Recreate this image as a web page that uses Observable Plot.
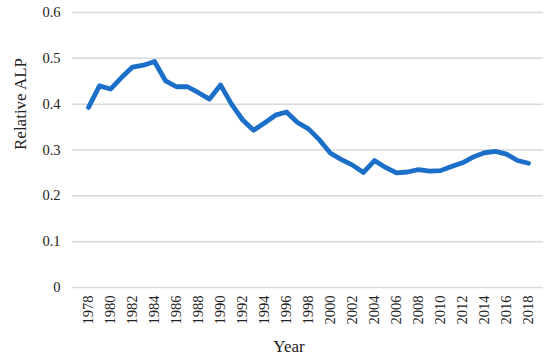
<!DOCTYPE html>
<html>
<head>
<meta charset="utf-8">
<script src="https://cdn.jsdelivr.net/npm/d3@7"></script>
<script src="https://cdn.jsdelivr.net/npm/@observablehq/plot@0.6"></script>
<style>
  html, body { margin: 0; padding: 0; background: #fff; }
  #chart svg { display: block; }
  #chart svg, #chart svg text { font-family: "Liberation Serif", "Times New Roman", serif !important; }
</style>
</head>
<body>
<div id="chart"></div>
<script>
const years = [1978,1979,1980,1981,1982,1983,1984,1985,1986,1987,1988,1989,1990,1991,1992,1993,1994,1995,1996,1997,1998,1999,2000,2001,2002,2003,2004,2005,2006,2007,2008,2009,2010,2011,2012,2013,2014,2015,2016,2017,2018];
const alp = [0.393,0.440,0.433,0.458,0.481,0.485,0.493,0.451,0.438,0.438,0.425,0.411,0.442,0.400,0.366,0.343,0.359,0.376,0.383,0.360,0.346,0.322,0.293,0.279,0.267,0.251,0.277,0.262,0.250,0.252,0.257,0.254,0.255,0.264,0.272,0.285,0.294,0.297,0.291,0.277,0.271];
const yTicks = [0, 0.1, 0.2, 0.3, 0.4, 0.5, 0.6];
const xTickLabels = years.filter(y => y % 2 === 0);
const yLabel = "Relative ALP";
const xLabel = "Year";

const data = years.map((y, i) => ({year: y, value: alp[i]}));
const FONT = "Liberation Serif";

const chart = Plot.plot({
  width: 550,
  height: 361,
  marginLeft: 72,
  marginRight: 7,
  marginTop: 12,
  marginBottom: 74,
  style: {color: "#222", background: "#fff", fontFamily: FONT},
  x: {type: "point", domain: years, padding: 0.5},
  y: {domain: [0, 0.6]},
  marks: [
    Plot.gridY(yTicks, {stroke: "#d9d9d9", strokeOpacity: 1, strokeWidth: 1.5}),
    Plot.axisY(yTicks, {tickSize: 0, tickPadding: 12, fontSize: 14.5, fontFamily: FONT, label: null, tickFormat: d => d === 0 ? "0" : d3.format(".1f")(d)}),
    Plot.axisX(xTickLabels, {tickSize: 0, tickRotate: -90, tickPadding: 8, fontSize: 14.5, fontFamily: FONT, label: null, tickFormat: d => String(d)}),
    Plot.line(data, {x: "year", y: "value", stroke: "#1c6fc9", strokeWidth: 4.8, strokeLinejoin: "round", strokeLinecap: "round"}),
    Plot.text([yLabel], {frameAnchor: "left", dx: -52, rotate: -90, fontSize: 17, fontFamily: FONT, fill: "#222"}),
    Plot.text([xLabel], {frameAnchor: "bottom", dx: -19, dy: 64, fontSize: 17, fontFamily: FONT, fill: "#222"})
  ]
});
document.getElementById("chart").appendChild(chart);
</script>
</body>
</html>
